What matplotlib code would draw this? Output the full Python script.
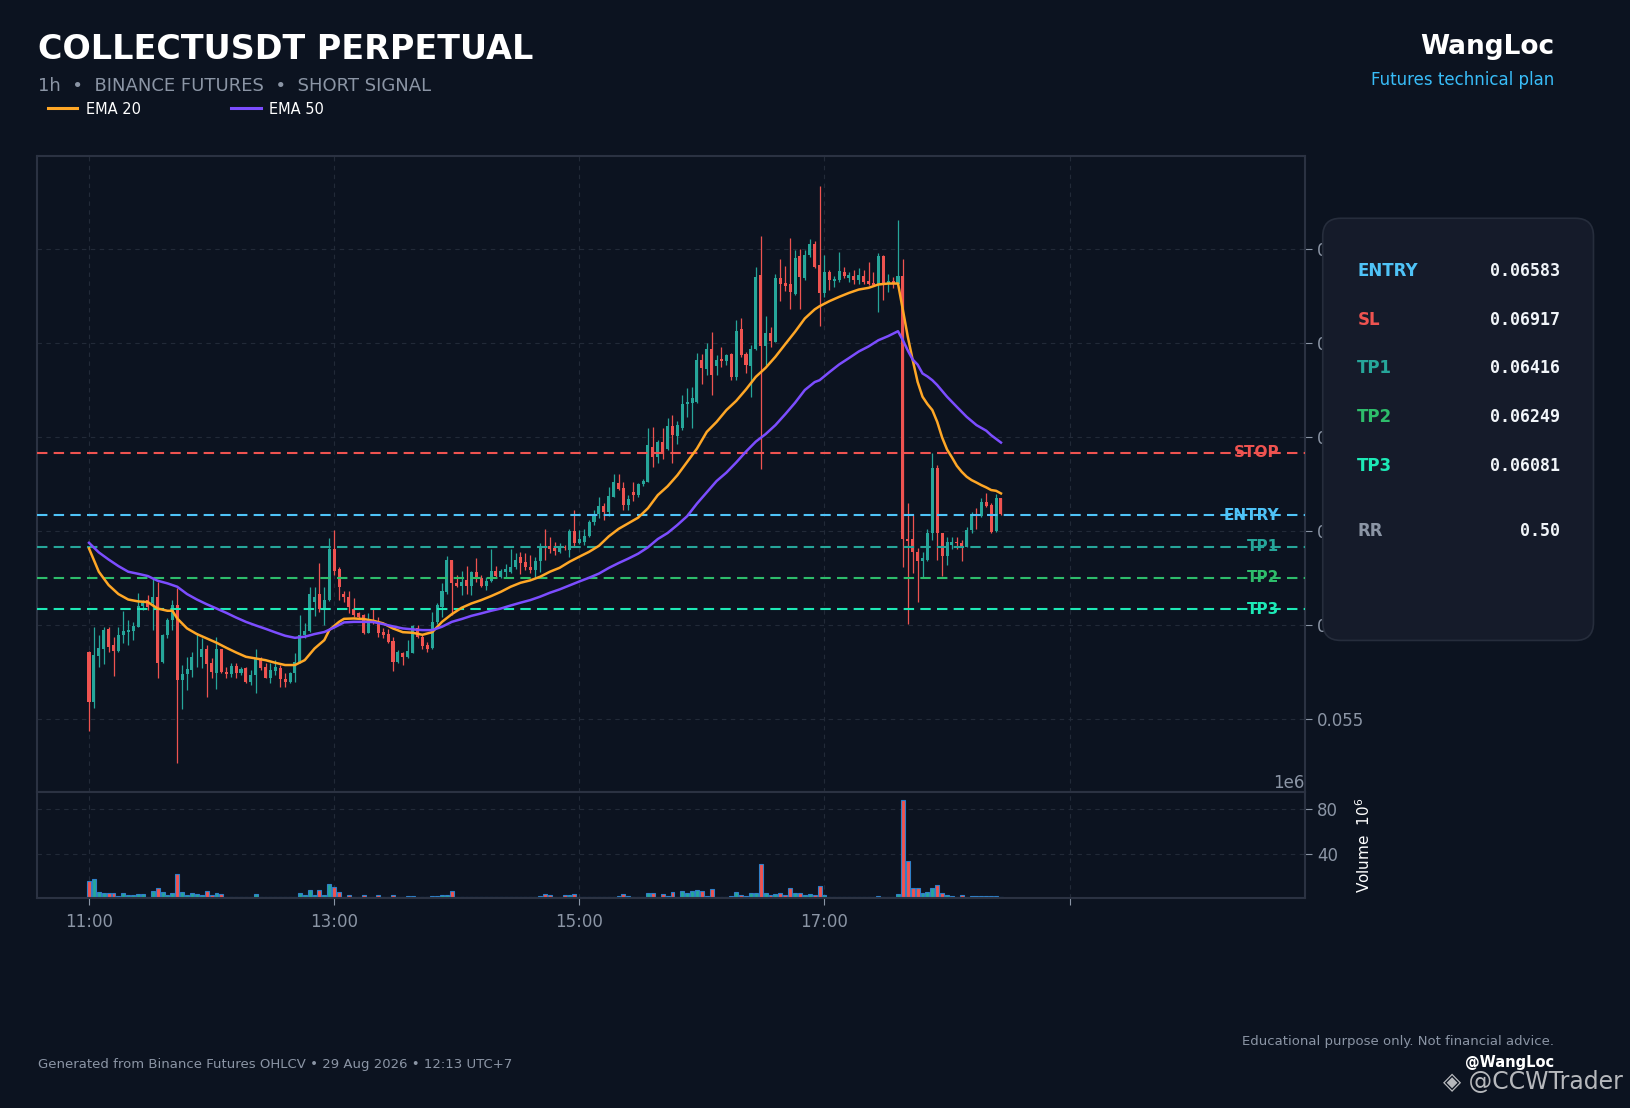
import matplotlib
matplotlib.use("Agg")
import matplotlib.pyplot as plt
from matplotlib.patches import FancyBboxPatch
from matplotlib.lines import Line2D
from matplotlib.ticker import FormatStrFormatter, ScalarFormatter
import numpy as np

# ---- data (1h candles, index 0 = first candle) ----
opens = [
    0.05854, 0.05589, 0.05833, 0.05872, 0.05978, 0.05891, 0.05861, 0.05944, 0.05960, 0.05967,
    0.05989, 0.06099, 0.06131, 0.06113, 0.06145, 0.05802, 0.05944, 0.06024, 0.06104, 0.05705,
    0.05737, 0.05758, 0.05826, 0.05826, 0.05868, 0.05794, 0.05744, 0.05868, 0.05747, 0.05737,
    0.05779, 0.05740, 0.05767, 0.05694, 0.05731, 0.05815, 0.05776, 0.05717, 0.05753, 0.05767,
    0.05708, 0.05696, 0.05740, 0.05802, 0.05944, 0.05966, 0.06120, 0.06163, 0.06081, 0.06131,
    0.06402, 0.06296, 0.06163, 0.06145, 0.06086, 0.06060, 0.06051, 0.05957, 0.06024, 0.06010,
    0.05962, 0.05950, 0.05914, 0.05802, 0.05847, 0.05826, 0.05850, 0.05980, 0.05936, 0.05891,
    0.05875, 0.06015, 0.06096, 0.06175, 0.06344, 0.06220, 0.06207, 0.06237, 0.06207, 0.06280,
    0.06250, 0.06205, 0.06232, 0.06285, 0.06255, 0.06282, 0.06282, 0.06308, 0.06362, 0.06335,
    0.06308, 0.06290, 0.06338, 0.06418, 0.06418, 0.06409, 0.06388, 0.06415, 0.06397, 0.06498,
    0.06436, 0.06441, 0.06472, 0.06548, 0.06590, 0.06630, 0.06600, 0.06681, 0.06752, 0.06730,
    0.06640, 0.06705, 0.06690, 0.06749, 0.06761, 0.06947, 0.06894, 0.06974, 0.06933, 0.07057,
    0.07005, 0.07045, 0.07175, 0.07182, 0.07187, 0.07412, 0.07361, 0.07466, 0.07379, 0.07414,
    0.07405, 0.07441, 0.07320, 0.07574, 0.07441, 0.07379, 0.07470, 0.07865, 0.07485, 0.07556,
    0.07506, 0.07849, 0.07822, 0.07817, 0.07760, 0.07963, 0.07847, 0.07968, 0.08025, 0.07915,
    0.07764, 0.07876, 0.07831, 0.07835, 0.07879, 0.07847, 0.07856, 0.07835, 0.07856, 0.07831,
    0.07821, 0.07817, 0.07963, 0.07817, 0.07828, 0.07817, 0.07856, 0.06454, 0.06454, 0.06388,
    0.06340, 0.06344, 0.06489, 0.06837, 0.06489, 0.06365, 0.06424, 0.06441, 0.06436, 0.06415,
    0.06504, 0.06592, 0.06578, 0.06654, 0.06637, 0.06497, 0.06672,
]
highs = [
    0.05860, 0.05989, 0.05944, 0.05985, 0.05985, 0.05936, 0.05985, 0.06074, 0.06024, 0.06015,
    0.06170, 0.06134, 0.06157, 0.06255, 0.06228, 0.05950, 0.06033, 0.06131, 0.06193, 0.05785,
    0.05829, 0.05856, 0.05953, 0.05927, 0.05891, 0.05820, 0.05936, 0.05872, 0.05776, 0.05794,
    0.05794, 0.05776, 0.05776, 0.05758, 0.05868, 0.05829, 0.05794, 0.05794, 0.05811, 0.05785,
    0.05740, 0.05749, 0.05847, 0.06051, 0.06007, 0.06202, 0.06202, 0.06331, 0.06202, 0.06459,
    0.06504, 0.06308, 0.06181, 0.06181, 0.06140, 0.06069, 0.06056, 0.06063, 0.06086, 0.06042,
    0.05980, 0.05975, 0.05936, 0.05865, 0.05856, 0.05918, 0.05998, 0.05998, 0.05944, 0.05909,
    0.06069, 0.06117, 0.06220, 0.06365, 0.06347, 0.06264, 0.06287, 0.06312, 0.06287, 0.06353,
    0.06264, 0.06255, 0.06401, 0.06312, 0.06299, 0.06322, 0.06401, 0.06383, 0.06388, 0.06380,
    0.06370, 0.06362, 0.06436, 0.06512, 0.06468, 0.06441, 0.06433, 0.06424, 0.06507, 0.06610,
    0.06504, 0.06512, 0.06560, 0.06610, 0.06680, 0.06650, 0.06731, 0.06800, 0.06805, 0.06760,
    0.06690, 0.06760, 0.06752, 0.06775, 0.07050, 0.07054, 0.06986, 0.07045, 0.07103, 0.07116,
    0.07086, 0.07222, 0.07258, 0.07267, 0.07448, 0.07441, 0.07501, 0.07560, 0.07435, 0.07480,
    0.07444, 0.07448, 0.07625, 0.07631, 0.07453, 0.07489, 0.07906, 0.08069, 0.07643, 0.07586,
    0.07870, 0.07950, 0.07909, 0.08057, 0.07995, 0.08003, 0.07995, 0.08053, 0.08043, 0.08335,
    0.07968, 0.07888, 0.07856, 0.07986, 0.07906, 0.07879, 0.07888, 0.07900, 0.07888, 0.07932,
    0.07879, 0.07980, 0.07968, 0.07870, 0.07850, 0.08158, 0.07945, 0.06646, 0.06583, 0.06406,
    0.06388, 0.06512, 0.06912, 0.06850, 0.06490, 0.06468, 0.06468, 0.06468, 0.06450, 0.06521,
    0.06601, 0.06619, 0.06672, 0.06702, 0.06646, 0.06695, 0.06675,
]
lows = [
    0.05435, 0.05554, 0.05776, 0.05788, 0.05852, 0.05728, 0.05855, 0.05900, 0.05891, 0.05918,
    0.05985, 0.06078, 0.06080, 0.05971, 0.05714, 0.05797, 0.05927, 0.05971, 0.05261, 0.05549,
    0.05652, 0.05723, 0.05776, 0.05767, 0.05613, 0.05714, 0.05660, 0.05740, 0.05714, 0.05723,
    0.05714, 0.05731, 0.05687, 0.05678, 0.05634, 0.05758, 0.05714, 0.05687, 0.05731, 0.05669,
    0.05669, 0.05687, 0.05692, 0.05794, 0.05927, 0.05960, 0.06046, 0.06069, 0.05998, 0.06125,
    0.06264, 0.06131, 0.06122, 0.06060, 0.06042, 0.06033, 0.05950, 0.05953, 0.06006, 0.05936,
    0.05927, 0.05904, 0.05754, 0.05794, 0.05785, 0.05820, 0.05847, 0.05927, 0.05873, 0.05852,
    0.05873, 0.06002, 0.06042, 0.06166, 0.06051, 0.06202, 0.06157, 0.06166, 0.06157, 0.06228,
    0.06202, 0.06184, 0.06228, 0.06246, 0.06246, 0.06255, 0.06276, 0.06299, 0.06269, 0.06290,
    0.06276, 0.06246, 0.06282, 0.06344, 0.06380, 0.06370, 0.06380, 0.06397, 0.06362, 0.06418,
    0.06429, 0.06424, 0.06468, 0.06530, 0.06570, 0.06560, 0.06580, 0.06678, 0.06717, 0.06610,
    0.06610, 0.06660, 0.06681, 0.06740, 0.06758, 0.06841, 0.06859, 0.06885, 0.06930, 0.06859,
    0.06962, 0.07036, 0.07107, 0.07045, 0.07182, 0.07281, 0.07332, 0.07222, 0.07329, 0.07373,
    0.07382, 0.07302, 0.07302, 0.07426, 0.07338, 0.07214, 0.07462, 0.06827, 0.07382, 0.07480,
    0.07503, 0.07723, 0.07776, 0.07679, 0.07755, 0.07679, 0.07835, 0.07959, 0.07901, 0.07590,
    0.07746, 0.07782, 0.07799, 0.07826, 0.07844, 0.07826, 0.07817, 0.07817, 0.07817, 0.07808,
    0.07803, 0.07666, 0.07728, 0.07773, 0.07795, 0.07808, 0.06305, 0.06003, 0.06273, 0.06122,
    0.06246, 0.06340, 0.06450, 0.06347, 0.06259, 0.06317, 0.06401, 0.06401, 0.06340, 0.06412,
    0.06486, 0.06512, 0.06575, 0.06628, 0.06486, 0.06495, 0.06585,
]
closes = [
    0.05589, 0.05838, 0.05875, 0.05971, 0.05882, 0.05861, 0.05944, 0.05966, 0.05971, 0.05992,
    0.06099, 0.06113, 0.06092, 0.06145, 0.05797, 0.05944, 0.06024, 0.06104, 0.05705, 0.05737,
    0.05763, 0.05829, 0.05829, 0.05868, 0.05790, 0.05749, 0.05873, 0.05749, 0.05738, 0.05779,
    0.05740, 0.05763, 0.05694, 0.05731, 0.05815, 0.05767, 0.05717, 0.05758, 0.05776, 0.05712,
    0.05696, 0.05740, 0.05802, 0.05944, 0.05966, 0.06163, 0.06150, 0.06081, 0.06134, 0.06402,
    0.06285, 0.06202, 0.06149, 0.06092, 0.06051, 0.06042, 0.05957, 0.06015, 0.06010, 0.05957,
    0.05944, 0.05909, 0.05802, 0.05856, 0.05829, 0.05861, 0.05992, 0.05936, 0.05886, 0.05873,
    0.06015, 0.06104, 0.06179, 0.06347, 0.06220, 0.06207, 0.06225, 0.06207, 0.06280, 0.06252,
    0.06207, 0.06232, 0.06285, 0.06259, 0.06285, 0.06296, 0.06308, 0.06347, 0.06330, 0.06308,
    0.06290, 0.06338, 0.06418, 0.06406, 0.06401, 0.06392, 0.06415, 0.06406, 0.06498, 0.06436,
    0.06457, 0.06474, 0.06548, 0.06590, 0.06630, 0.06600, 0.06685, 0.06761, 0.06725, 0.06640,
    0.06670, 0.06690, 0.06749, 0.06766, 0.06956, 0.06894, 0.06974, 0.06912, 0.07057, 0.07009,
    0.07063, 0.07175, 0.07187, 0.07205, 0.07412, 0.07368, 0.07466, 0.07329, 0.07412, 0.07403,
    0.07435, 0.07320, 0.07563, 0.07435, 0.07382, 0.07467, 0.07853, 0.07485, 0.07556, 0.07510,
    0.07847, 0.07812, 0.07803, 0.07773, 0.07955, 0.07850, 0.07968, 0.08025, 0.07906, 0.07764,
    0.07876, 0.07835, 0.07843, 0.07885, 0.07856, 0.07861, 0.07835, 0.07861, 0.07826, 0.07817,
    0.07808, 0.07963, 0.07817, 0.07830, 0.07821, 0.07856, 0.06454, 0.06447, 0.06388, 0.06340,
    0.06353, 0.06489, 0.06832, 0.06486, 0.06365, 0.06441, 0.06441, 0.06433, 0.06415, 0.06504,
    0.06592, 0.06578, 0.06654, 0.06631, 0.06495, 0.06672, 0.06589,
]
# volume in millions
volume_m = [
    15.6, 17.4, 5.2, 4.3, 4.3, 4.3, 2.1, 4.3, 2.4, 2.4,
    3.7, 3.7, 1.2, 6.1, 9.2, 5.2, 2.7, 4.3, 22.0, 5.2,
    2.4, 4.3, 3.7, 2.4, 6.4, 2.4, 4.3, 3.4, 1.2, 1.2,
    1.2, 0.9, 1.2, 1.2, 3.4, 0.9, 0.9, 1.2, 1.2, 1.2,
    1.2, 0.9, 1.2, 4.3, 2.4, 7.0, 2.4, 7.0, 2.4, 12.8,
    10.4, 5.2, 0.9, 2.4, 1.2, 0.9, 2.4, 1.2, 0.9, 2.4,
    0.9, 1.2, 2.4, 1.2, 1.2, 1.8, 1.8, 0.9, 0.9, 0.9,
    1.8, 1.8, 2.4, 2.4, 6.4, 1.2, 1.2, 1.2, 1.2, 1.2,
    0.9, 1.2, 1.2, 0.9, 1.2, 1.2, 0.9, 1.2, 1.2, 1.2,
    0.9, 1.2, 1.8, 3.4, 2.4, 1.2, 1.2, 2.4, 2.4, 3.4,
    1.2, 0.9, 0.9, 0.9, 1.2, 1.2, 1.2, 1.2, 1.8, 3.4,
    1.8, 1.2, 1.2, 1.2, 4.3, 4.3, 1.2, 3.4, 1.8, 5.2,
    1.2, 6.1, 4.3, 6.1, 7.6, 6.1, 1.8, 8.0, 1.2, 1.2,
    1.2, 1.8, 5.2, 2.4, 1.8, 4.3, 4.3, 30.8, 4.3, 2.4,
    3.4, 4.3, 2.4, 8.9, 4.3, 4.3, 2.4, 3.4, 2.4, 11.0,
    2.4, 0.9, 1.2, 1.2, 1.2, 1.2, 1.2, 1.2, 1.2, 1.2,
    1.2, 2.1, 1.2, 1.2, 1.2, 3.4, 88.8, 33.9, 8.9, 8.9,
    4.3, 5.2, 8.9, 11.9, 4.3, 2.4, 1.8, 0.9, 2.4, 0.9,
    1.8, 1.8, 1.8, 1.8, 1.8, 1.8, 0.9,
]

ema20_idx = [0, 2, 4, 6, 8, 10, 12, 14, 16, 17, 18, 20, 22, 24, 26, 28, 30, 32, 34, 36,
             38, 40, 42, 44, 46, 48, 49, 51, 52, 54, 56, 58, 60, 62, 64, 66, 68, 70, 72, 74,
             76, 78, 80, 82, 84, 86, 88, 90, 92, 94, 96, 98, 100, 102, 104, 106, 108, 110, 112, 114,
             116, 118, 120, 122, 124, 126, 128, 130, 132, 134, 136, 138, 140, 142, 144, 146, 148, 149, 151, 153,
             155, 157, 159, 161, 163, 165, 166, 167, 168, 169, 170, 171, 172, 173, 174, 175, 176, 177, 178, 179,
             180, 181, 182, 183, 184, 185, 186]
ema20 = [0.06406, 0.06282, 0.06211, 0.06163, 0.06134, 0.06124, 0.06120, 0.06086, 0.06074, 0.06074,
         0.06033, 0.05980, 0.05950, 0.05927, 0.05904, 0.05877, 0.05852, 0.05829, 0.05820, 0.05811,
         0.05797, 0.05785, 0.05785, 0.05811, 0.05873, 0.05918, 0.05971, 0.06015, 0.06031, 0.06033,
         0.06030, 0.06021, 0.06007, 0.05980, 0.05960, 0.05957, 0.05946, 0.05960, 0.06015, 0.06056,
         0.06090, 0.06113, 0.06131, 0.06152, 0.06175, 0.06202, 0.06223, 0.06236, 0.06255, 0.06282,
         0.06303, 0.06335, 0.06362, 0.06388, 0.06420, 0.06470, 0.06510, 0.06540, 0.06570, 0.06620,
         0.06690, 0.06737, 0.06796, 0.06867, 0.06938, 0.07027, 0.07080, 0.07143, 0.07192, 0.07253,
         0.07320, 0.07368, 0.07427, 0.07494, 0.07560, 0.07631, 0.07679, 0.07696, 0.07723, 0.07746,
         0.07767, 0.07785, 0.07794, 0.07812, 0.07817, 0.07817, 0.07675, 0.07533, 0.07409, 0.07293,
         0.07214, 0.07175, 0.07143, 0.07080, 0.06997, 0.06933, 0.06891, 0.06846, 0.06814, 0.06788,
         0.06770, 0.06757, 0.06743, 0.06731, 0.06717, 0.06713, 0.06699]

ema50_idx = [0, 2, 4, 6, 8, 10, 12, 14, 16, 18, 20, 22, 24, 26, 28, 30, 32, 34, 36, 38,
             40, 42, 44, 46, 48, 50, 52, 54, 56, 58, 60, 62, 64, 66, 68, 70, 72, 74, 76, 78,
             80, 82, 84, 86, 88, 90, 92, 94, 96, 98, 100, 102, 104, 106, 108, 110, 112, 114, 116, 118,
             120, 122, 124, 126, 128, 130, 132, 134, 136, 138, 140, 142, 144, 146, 148, 149, 151, 153, 155, 157,
             159, 161, 163, 165, 166, 167, 168, 169, 170, 171, 172, 173, 175, 177, 179, 181, 183, 184, 186]
ema50 = [0.06436, 0.06385, 0.06347, 0.06312, 0.06282, 0.06271, 0.06259, 0.06234, 0.06220, 0.06202,
         0.06163, 0.06134, 0.06109, 0.06086, 0.06063, 0.06038, 0.06015, 0.05996, 0.05978, 0.05959,
         0.05941, 0.05930, 0.05936, 0.05950, 0.05961, 0.05985, 0.06012, 0.06015, 0.06015, 0.06014,
         0.06003, 0.05991, 0.05980, 0.05975, 0.05971, 0.05971, 0.05989, 0.06015, 0.06030, 0.06047,
         0.06060, 0.06074, 0.06086, 0.06102, 0.06117, 0.06131, 0.06149, 0.06170, 0.06188, 0.06209,
         0.06230, 0.06250, 0.06272, 0.06302, 0.06328, 0.06352, 0.06378, 0.06412, 0.06456, 0.06488,
         0.06531, 0.06578, 0.06645, 0.06705, 0.06765, 0.06810, 0.06864, 0.06922, 0.06975, 0.07015,
         0.07063, 0.07121, 0.07182, 0.07250, 0.07292, 0.07302, 0.07345, 0.07386, 0.07420, 0.07455,
         0.07482, 0.07515, 0.07537, 0.07563, 0.07515, 0.07460, 0.07412, 0.07385, 0.07338, 0.07322,
         0.07302, 0.07276, 0.07214, 0.07160, 0.07107, 0.07063, 0.07033, 0.07009, 0.06970]

level_names = ["STOP", "ENTRY", "TP1", "TP2", "TP3"]
level_prices = [0.06917, 0.06583, 0.06416, 0.06249, 0.06081]

panel_labels = ["ENTRY", "SL", "TP1", "TP2", "TP3", "RR"]
panel_values = ["0.06583", "0.06917", "0.06416", "0.06249", "0.06081", "0.50"]

x_ticks = [0, 50, 100, 150, 200]
x_labels = ["11:00", "13:00", "15:00", "17:00", ""]
price_ticks = [0.055, 0.060, 0.065, 0.070, 0.075, 0.080]
vol_ticks_m = [40, 80]

# ---- styles ----
BG = "#0c1320"
GRID = "#222a38"
SPINE = "#2b3242"
MUTED = "#8b95a5"
UP = "#26a69a"
DOWN = "#ef5350"
ORANGE = "#ffa726"
PURPLE = "#7c4dff"
level_colors = ["#ef5350", "#4fc3f7", "#26a69a", "#2ebd6b", "#1de9b6"]
panel_colors = ["#4fc3f7", "#ef5350", "#26a69a", "#2ebd6b", "#1de9b6", MUTED]

o = np.array(opens)
h = np.array(highs)
l = np.array(lows)
c = np.array(closes)
x = np.arange(len(o))
up = c >= o
cols = np.where(up, UP, DOWN)

fig = plt.figure(figsize=(16.31, 11.08), dpi=100, facecolor=BG)
ax = fig.add_axes([0.0227, 0.2849, 0.7774, 0.5741], facecolor=BG)
axv = fig.add_axes([0.0227, 0.1895, 0.7774, 0.0954], facecolor=BG, sharex=ax)

for a in (ax, axv):
    for s in a.spines.values():
        s.set_color(SPINE)
        s.set_linewidth(1.5)
    a.grid(True, color=GRID, linestyle=(0, (4, 4)), linewidth=0.8)
    a.set_axisbelow(True)

# candles
ax.vlines(x, l, h, colors=cols, linewidth=0.9, zorder=2)
body = np.maximum(np.abs(c - o), 0.00003)
ax.bar(x, body, bottom=np.minimum(o, c), width=0.62, color=cols, linewidth=0, zorder=3)

ax.plot(ema20_idx, ema20, color=ORANGE, lw=1.8, zorder=4)
ax.plot(ema50_idx, ema50, color=PURPLE, lw=1.8, zorder=4)

for name, price, col in zip(level_names, level_prices, level_colors):
    ax.axhline(price, color=col, linestyle=(0, (5, 3)), linewidth=1.5, zorder=3)
    ax.text(242.8, price, name, color=col, ha="right", va="center",
            fontsize=11, fontweight="bold", zorder=5)

ax.set_xlim(-10.6, 248)
ax.set_ylim(0.05107, 0.08495)
ax.yaxis.tick_right()
ax.set_yticks(price_ticks)
ax.yaxis.set_major_formatter(FormatStrFormatter("%.3f"))
ax.tick_params(axis="y", colors=MUTED, labelsize=12, length=5)
ax.tick_params(axis="x", length=0, labelbottom=False)

# volume
axv.bar(x, np.array(volume_m) * 1e6, width=0.8, color=cols, edgecolor="#2f80c8", linewidth=0.8)
axv.set_ylim(0, 95.5e6)
axv.yaxis.tick_right()
axv.yaxis.set_label_position("right")
vfmt = ScalarFormatter(useOffset=False)
vfmt.set_powerlimits((6, 6))
axv.yaxis.set_major_formatter(vfmt)
axv.set_yticks([v * 1e6 for v in vol_ticks_m])
axv.tick_params(axis="y", colors=MUTED, labelsize=12, length=5)
axv.yaxis.get_offset_text().set_color(MUTED)
axv.yaxis.get_offset_text().set_fontsize(12)
axv.set_ylabel(r"Volume  $10^6$", color="white", fontsize=11, labelpad=12)
axv.set_xticks(x_ticks)
axv.set_xticklabels(x_labels)
axv.tick_params(axis="x", colors=MUTED, labelsize=12, length=5, pad=6)

# header
fig.text(0.0236, 0.955, "COLLECTUSDT PERPETUAL", color="white", fontsize=24,
         fontweight="bold", va="center")
fig.text(0.0236, 0.922, "1h  \u2022  BINANCE FUTURES  \u2022  SHORT SIGNAL", color=MUTED,
         fontsize=13, va="center")
fig.text(0.9528, 0.9576, "WangLoc", color="white", fontsize=19, fontweight="bold",
         ha="right", va="center")
fig.text(0.9528, 0.9278, "Futures technical plan", color="#38bdf8", fontsize=12,
         ha="right", va="center")

handles = [Line2D([], [], color=ORANGE, lw=2.2), Line2D([], [], color=PURPLE, lw=2.2)]
fig.legend(handles, ["EMA 20", "EMA 50"], loc="center left", bbox_to_anchor=(0.0295, 0.9016),
           ncol=2, frameon=False, fontsize=10.5, handlelength=2.0, handletextpad=0.6,
           columnspacing=6.2, borderpad=0, borderaxespad=0, labelcolor="white")

# info panel
panel = FancyBboxPatch((0.811, 0.422), 0.166, 0.381,
                       boxstyle="round,pad=0,rounding_size=0.011", mutation_aspect=1.472,
                       transform=fig.transFigure, facecolor="#151b2a", edgecolor="#262d3c",
                       linewidth=1.2, zorder=10)
fig.add_artist(panel)
row_y = [0.7554, 0.7112, 0.6676, 0.6234, 0.5797, 0.521]
for lab, val, col, yy in zip(panel_labels, panel_values, panel_colors, row_y):
    fig.text(0.8322, yy, lab, color=col, fontsize=12, fontweight="bold", va="center", zorder=11)
    fig.text(0.9565, yy, val, color="#f1f5f9", fontsize=12, fontweight="bold",
             family="DejaVu Sans Mono", ha="right", va="center", zorder=11)

# footer
fig.text(0.0236, 0.0397, "Generated from Binance Futures OHLCV \u2022 29 Aug 2026 \u2022 12:13 UTC+7",
         color=MUTED, fontsize=9.5, va="center")
fig.text(0.9528, 0.0596, "Educational purpose only. Not financial advice.", color=MUTED,
         fontsize=9.5, ha="right", va="center")
fig.text(0.9528, 0.0415, "@WangLoc", color="white", fontsize=10.5, fontweight="bold",
         ha="right", va="center")
fig.text(0.995, 0.0235, "\u25c8 @CCWTrader", color="white", alpha=0.7, fontsize=17,
         ha="right", va="center")

fig.savefig("out.png", dpi=100, facecolor=BG)
